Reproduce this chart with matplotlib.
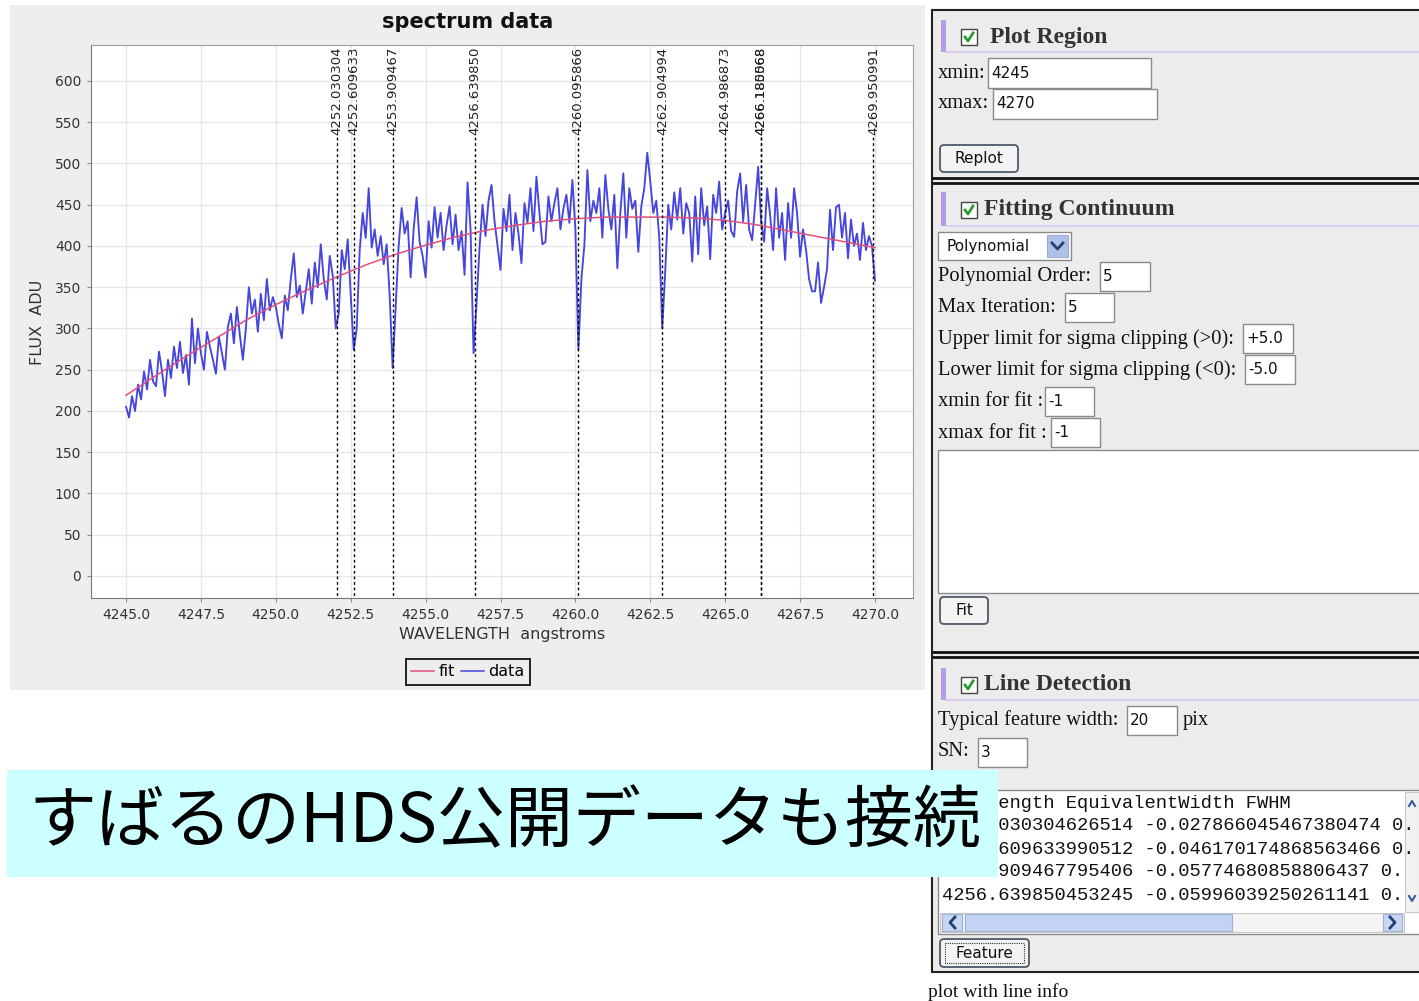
import matplotlib
matplotlib.use("Agg")
import matplotlib.pyplot as plt
import numpy as np
from matplotlib.patches import Rectangle, FancyBboxPatch
from matplotlib.lines import Line2D
from matplotlib.ticker import FormatStrFormatter

# ---- data ----
wave_start = 4245.0
wave_step = 0.1
flux = [
    205, 192, 218, 200, 232, 214, 248, 226, 262, 236,   # 4245
    230, 272, 248, 218, 262, 240, 278, 252, 284, 246,   # 4246
    268, 232, 312, 258, 300, 270, 250, 296, 278, 262,   # 4247
    245, 290, 270, 250, 302, 318, 282, 326, 292, 262,   # 4248
    300, 350, 318, 335, 296, 342, 310, 360, 322, 338,   # 4249
    326, 305, 288, 340, 322, 360, 391, 338, 352, 318,   # 4250
    345, 372, 330, 380, 350, 402, 360, 335, 388, 364,   # 4251
    300, 318, 395, 372, 408, 340, 274, 300, 395, 440,   # 4252
    410, 470, 398, 420, 388, 412, 378, 402, 340, 252,   # 4253
    325, 400, 446, 415, 430, 362, 420, 459, 405, 388,   # 4254
    362, 430, 398, 447, 410, 440, 395, 425, 448, 402,   # 4255
    438, 395, 418, 365, 477, 420, 270, 330, 398, 450,   # 4256
    412, 455, 474, 430, 400, 371, 445, 418, 462, 395,   # 4257
    440, 415, 379, 452, 428, 470, 418, 484, 440, 402,   # 4258
    405, 460, 430, 452, 470, 420, 445, 462, 428, 480,   # 4259
    420, 274, 360, 401, 492, 430, 455, 440, 470, 410,   # 4260
    486, 445, 420, 462, 373, 440, 488, 410, 470, 445,   # 4261
    455, 393, 448, 470, 513, 478, 440, 455, 410, 300,   # 4262
    370, 450, 420, 465, 432, 470, 415, 452, 440, 381,   # 4263
    460, 390, 470, 425, 448, 384, 462, 440, 478, 420,   # 4264
    440, 455, 418, 411, 466, 488, 430, 474, 420, 407,   # 4265
    450, 496, 430, 405, 470, 438, 395, 470, 410, 440,   # 4266
    383, 452, 410, 470, 440, 387, 420, 395, 360, 345,   # 4267
    345, 380, 331, 350, 372, 444, 395, 447, 450, 410,   # 4268
    440, 385, 432, 400, 415, 383, 428, 395, 412, 400,   # 4269
    358,
]
wave = np.round(wave_start + wave_step * np.arange(len(flux)), 2)

fit_wave = list(range(4245, 4271))
fit_flux = [219, 243, 266, 288, 310, 329, 346, 362, 377, 390, 401, 411, 419,
            425, 430, 433, 435, 435, 435, 434, 431, 426, 419, 412, 405, 398]

line_labels = ["4252.030304", "4252.609633", "4253.909467", "4256.639850",
               "4260.095866", "4262.904994", "4264.986873", "4266.180568",
               "4266.185068", "4269.950991"]
line_pos = [float(s) for s in line_labels]

xticks = [4245.0, 4247.5, 4250.0, 4252.5, 4255.0, 4257.5, 4260.0, 4262.5,
          4265.0, 4267.5, 4270.0]
yticks = list(range(0, 601, 50))

result_rows = [
    "Wavelength EquivalentWidth FWHM",
    "4252.030304626514 -0.027866045467380474 0.",
    "4252.609633990512 -0.046170174868563466 0.",
    "4253.909467795406 -0.05774680858806437 0.",
    "4256.639850453245 -0.05996039250261141 0.",
]

W, H = 1419, 1001
SERIF = "Liberation Serif"
SANS = "DejaVu Sans"

fig = plt.figure(figsize=(W / 100, H / 100), dpi=100)
fig.patch.set_facecolor("white")

# background axes in pixel coordinates (y downwards)
bg = fig.add_axes([0, 0, 1, 1], zorder=0)
bg.set_xlim(0, W)
bg.set_ylim(H, 0)
bg.axis("off")


def rect(x0, y0, x1, y1, **kw):
    bg.add_patch(Rectangle((x0, y0), x1 - x0, y1 - y0, **kw))


def hline(x0, x1, y, **kw):
    bg.plot([x0, x1], [y, y], solid_capstyle="butt", **kw)


def label(x, y, s, size=14.8):
    bg.text(x, y, s, fontsize=size, family=SERIF, va="center", ha="left", color="#111111")


def entry(x0, y0, x1, y1, s):
    rect(x0, y0, x1, y1, facecolor="white", edgecolor="#8a8a8a", lw=1)
    bg.text(x0 + 3, (y0 + y1) / 2, s, fontsize=11, family=SANS, va="center", ha="left", color="#111111")


def button(x0, y0, x1, y1, s, focus=False):
    bg.add_patch(FancyBboxPatch((x0, y0), x1 - x0, y1 - y0,
                                boxstyle="round,pad=0,rounding_size=4",
                                fc="#f3f3f3", ec="#4d5a6a", lw=1.3))
    if focus:
        rect(x0 + 5, y0 + 4, x1 - 5, y1 - 4, fill=False, ec="#333333", lw=0.8, ls=(0, (1, 1)))
    bg.text((x0 + x1) / 2, (y0 + y1) / 2, s, fontsize=11, family=SANS, va="center", ha="center", color="#111111")


def checkbox(x, y):
    rect(x, y, x + 16, y + 16, facecolor="white", edgecolor="#444444", lw=1)
    bg.plot([x + 4, x + 7, x + 12], [y + 8, y + 12, y + 4], color="#2f9a2f", lw=2)


def header(y0, y1, title, tx):
    rect(941, y0, 946, y1, facecolor="#b79be6", edgecolor="none")
    hline(946, W, y1, color="#dccdf0", lw=1.5)
    checkbox(961, (y0 + y1) / 2 - 7)
    bg.text(tx, (y0 + y1) / 2 + 1, title, family=SERIF, weight="bold", fontsize=17,
            va="center", ha="left", color="#333333")


# grey chart panel
rect(10, 5, 925, 690, facecolor="#eeeeee", edgecolor="none")

# ---- GUI side panel ----
rect(932, 10, W, 972, facecolor="#ececec", edgecolor="none")
bg.plot([932, 932], [10, 972], color="#222222", lw=1.5)
hline(932, W, 10, color="#222222", lw=1.5)
hline(932, W, 972, color="#222222", lw=1.5)

# Plot Region
header(20, 52, "Plot Region", 990)
label(938, 73, "xmin:")
entry(988, 58, 1151, 88, "4245")
label(938, 104, "xmax:")
entry(993, 89, 1157, 119, "4270")
button(940, 145, 1018, 172, "Replot")
hline(932, W, 178, color="#111111", lw=2)
hline(932, W, 183, color="#111111", lw=2)

# Fitting Continuum
header(192, 226, "Fitting Continuum", 984)
rect(938, 232, 1071, 260, facecolor="white", edgecolor="#8a8a8a", lw=1)
bg.text(946, 246, "Polynomial", fontsize=11, family=SANS, va="center", ha="left", color="#111111")
rect(1047, 235, 1068, 257, facecolor="#aebfe8", edgecolor="#9aaad0", lw=0.8)
bg.plot([1052, 1057.5, 1063], [243, 249, 243], color="#25406e", lw=2)
label(938, 277, "Polynomial Order:")
entry(1100, 262, 1150, 291, "5")
label(938, 308, "Max Iteration:")
entry(1065, 293, 1114, 322, "5")
label(938, 339, "Upper limit for sigma clipping (>0):")
entry(1243, 324, 1293, 353, "+5.0")
label(938, 370, "Lower limit for sigma clipping (<0):")
entry(1245, 355, 1295, 384, "-5.0")
label(938, 401, "xmin for fit :")
entry(1045, 387, 1094, 416, "-1")
label(938, 433, "xmax for fit :")
entry(1051, 418, 1100, 447, "-1")
rect(938, 450, W + 2, 593, facecolor="white", edgecolor="#8a8a8a", lw=1)
button(940, 597, 988, 624, "Fit")
hline(932, W, 652, color="#111111", lw=2)
hline(932, W, 657, color="#111111", lw=2)

# Line Detection
header(668, 700, "Line Detection", 984)
label(938, 720, "Typical feature width:")
entry(1127, 706, 1177, 735, "20")
label(1183, 720, "pix")
label(938, 751, "SN:")
entry(978, 738, 1027, 767, "3")
rect(938, 790, W + 2, 934, facecolor="white", edgecolor="#8a8a8a", lw=1)
clip = Rectangle((940, 790), 1404 - 940, 122, transform=bg.transData)
for i, row in enumerate(result_rows):
    t = bg.text(942, 803 + 23 * i, row, fontsize=13.5, family="Liberation Mono",
                va="center", ha="left", color="#111111")
    t.set_clip_path(clip)
# scrollbars
rect(1405, 792, W, 912, facecolor="#f1f1f1", edgecolor="#c8c8c8", lw=0.8)
bg.plot([1409, 1412, 1415], [806, 801, 806], color="#3a5a9a", lw=1.5)
bg.plot([1409, 1412, 1415], [896, 901, 896], color="#3a5a9a", lw=1.5)
rect(940, 913, 1404, 932, facecolor="#f4f4f4", edgecolor="#c8c8c8", lw=0.8)
rect(942, 914, 962, 931, facecolor="#c9d6f2", edgecolor="#9fb0d8", lw=0.8)
rect(965, 914, 1232, 931, facecolor="#c3d3f3", edgecolor="#9fb0d8", lw=0.8)
rect(1383, 914, 1402, 931, facecolor="#c9d6f2", edgecolor="#9fb0d8", lw=0.8)
bg.plot([955, 950, 955], [917, 922.5, 928], color="#1f3f7a", lw=2)
bg.plot([1390, 1395, 1390], [917, 922.5, 928], color="#1f3f7a", lw=2)
button(940, 939, 1029, 967, "Feature", focus=True)
bg.text(928, 992, "plot with line info", fontsize=14, family=SERIF, va="center", ha="left", color="#111111")

# banner
rect(7, 770, 998, 877, facecolor="#ccffff", edgecolor="none", zorder=5)
bg.text(28, 823, "すばるのHDS公開データも接続", fontsize=49,
        family=["Noto Sans CJK JP", "DejaVu Sans"], va="center", ha="left",
        color="black", zorder=6)

# ---- spectrum chart ----
ax = fig.add_axes([91 / W, 1 - 598 / H, 822 / W, 553 / H], zorder=2)
ax.set_facecolor("white")
ax.set_xlim(4243.83, 4271.27)
ax.set_ylim(-26.7, 643.6)
ax.set_xticks(xticks)
ax.set_yticks(yticks)
ax.xaxis.set_major_formatter(FormatStrFormatter("%.1f"))
ax.grid(color="#e6e6e6", lw=1)
ax.set_axisbelow(True)
ax.tick_params(labelsize=10, length=3, color="#888888", labelcolor="#333333", pad=4)
for sp in ax.spines.values():
    sp.set_color("#a0a0a0")
ax.spines["left"].set_color("#777777")
ax.spines["bottom"].set_color("#777777")

ax.plot(wave, flux, color="#4646dc", lw=1.35, zorder=3)
ax.plot(fit_wave, fit_flux, color="#e0507a", lw=1.1, zorder=4)

label_y = 534
for xp, s in zip(line_pos, line_labels):
    ax.plot([xp, xp], [-30, label_y], color="black", lw=1, ls=(0, (2, 2)), zorder=5)
    ax.text(xp, label_y, s, rotation=90, ha="center", va="bottom", fontsize=9.5,
            color="#222222", zorder=6)

fig.text(468 / W, 1 - 22 / H, "spectrum data", fontsize=15, weight="bold",
         ha="center", va="center", color="#111111")
fig.text(502 / W, 1 - 635 / H, "WAVELENGTH  angstroms", fontsize=11.5,
         ha="center", va="center", color="#333333")
fig.text(38 / W, 1 - 322 / H, "FLUX  ADU", fontsize=11.5, rotation=90,
         ha="center", va="center", color="#333333")

handles = [Line2D([], [], color="#e0507a", lw=1.1), Line2D([], [], color="#4646dc", lw=1.1)]
leg = fig.legend(handles, ["fit", "data"], loc="center", ncol=2,
                 bbox_to_anchor=(468 / W, 1 - 672 / H), fontsize=11.5,
                 handlelength=1.4, handletextpad=0.3, columnspacing=0.4,
                 borderpad=0.35, fancybox=False, framealpha=1)
leg.get_frame().set_edgecolor("black")
leg.get_frame().set_facecolor("#eeeeee")
leg.get_frame().set_linewidth(1.2)

fig.savefig("out.png", dpi=100)
plt.close(fig)
